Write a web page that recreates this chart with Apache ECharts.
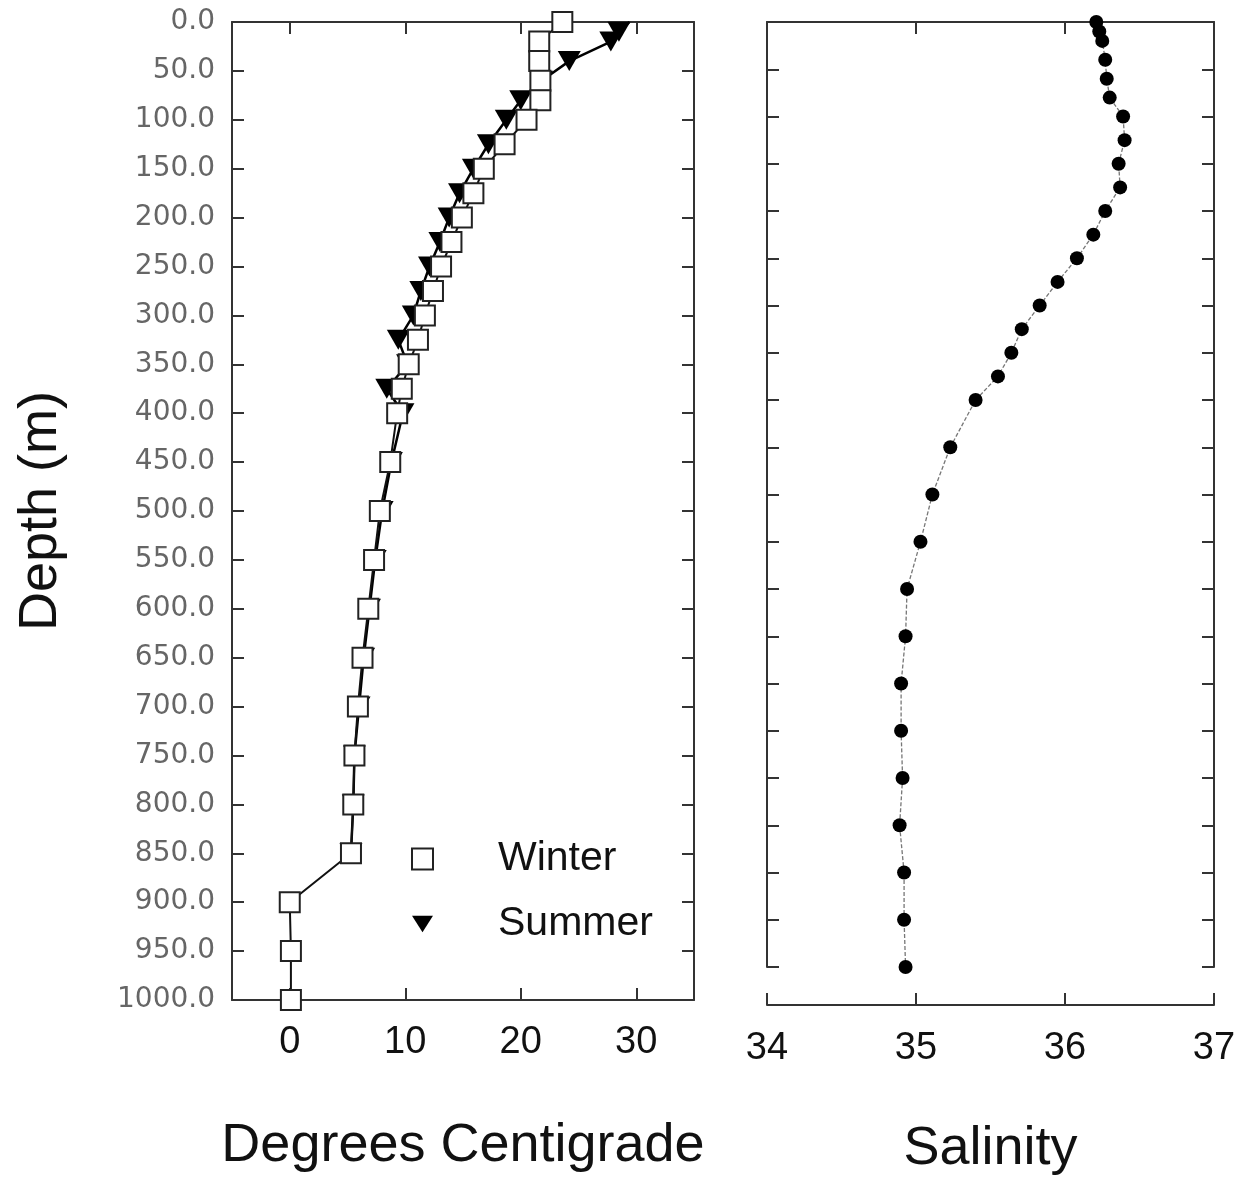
<!DOCTYPE html>
<html>
<head>
<meta charset="utf-8">
<script src="https://cdn.jsdelivr.net/npm/echarts@6/dist/echarts.min.js"></script>
<style>html,body{margin:0;padding:0;background:#fff}#chart{width:1245px;height:1178px}</style>
</head>
<body>
<div id="chart"></div>
<script>
// ---- data ----
const depthTicks = [0, 50, 100, 150, 200, 250, 300, 350, 400, 450, 500, 550, 600, 650, 700, 750, 800, 850, 900, 950, 1000];
const tempTicks = [0, 10, 20, 30];
const salTicks = [34, 35, 36, 37];

const winterDepth = [0, 20, 40, 60, 80, 100, 125, 150, 175, 200, 225, 250, 275, 300, 325, 350, 375, 400, 450, 500, 550, 600, 650, 700, 750, 800, 850, 900, 950, 1000];
const winterTemp  = [23.6, 21.6, 21.6, 21.7, 21.7, 20.5, 18.6, 16.8, 15.9, 14.9, 14.0, 13.1, 12.4, 11.7, 11.1, 10.3, 9.7, 9.3, 8.7, 7.8, 7.3, 6.8, 6.3, 5.9, 5.6, 5.5, 5.3, 0.0, 0.1, 0.1];

const summerDepth = [0, 10, 20, 40, 60, 80, 100, 125, 150, 175, 200, 225, 250, 275, 300, 325, 350, 375, 400, 450, 500, 550, 600, 650, 700, 750, 800, 850];
const summerTemp  = [29.4, 28.5, 27.8, 24.2, 21.8, 20.0, 18.75, 17.2, 15.9, 14.7, 13.8, 13.0, 12.1, 11.35, 10.7, 9.4, 10.2, 8.4, 9.8, 8.8, 8.0, 7.4, 6.9, 6.4, 6.0, 5.6, 5.5, 5.3];

const salDepth = [0, 10, 20, 40, 60, 80, 100, 125, 150, 175, 200, 225, 250, 275, 300, 325, 350, 375, 400, 450, 500, 550, 600, 650, 700, 750, 800, 850, 900, 950, 1000];
const salinity = [36.21, 36.23, 36.25, 36.27, 36.28, 36.30, 36.39, 36.40, 36.36, 36.37, 36.27, 36.19, 36.08, 35.95, 35.83, 35.71, 35.64, 35.55, 35.40, 35.23, 35.11, 35.03, 34.94, 34.93, 34.90, 34.90, 34.91, 34.89, 34.92, 34.92, 34.93];

// ---- build chart ----
const axisColor = '#333';
const FONT = 'Liberation Sans, Arial, sans-serif';
const lineSt = { color: axisColor, width: 2 };
const tickSt = { show: true, inside: true, length: 12, lineStyle: { color: axisColor, width: 2 } };

const winterData = winterDepth.map((d, i) => [winterTemp[i], d]);
const summerData = summerDepth.map((d, i) => (d === 0 ? { value: [summerTemp[i], d], symbol: 'none' } : [summerTemp[i], d]));
const salData = salDepth.map((d, i) => [salinity[i], d]);

const chart = echarts.init(document.getElementById('chart'), null, { renderer: 'canvas' });
chart.setOption({
  backgroundColor: '#fff',
  animation: false,
  textStyle: { fontFamily: FONT },
  grid: [
    { left: 232, top: 22, width: 462, height: 978, containLabel: false, outerBoundsMode: 'none' },
    { left: 767, top: 22, width: 447, height: 945, containLabel: false, outerBoundsMode: 'none' }
  ],
  legend: {
    orient: 'vertical',
    left: 406,
    top: 830,
    itemWidth: 21,
    itemHeight: 21,
    itemGap: 17,
    selectedMode: false,
    textStyle: { fontSize: 41, color: '#111', fontFamily: FONT, lineHeight: 48, padding: [0, 0, 0, 60] },
    data: [
      { name: 'Winter', icon: 'rect', itemStyle: { color: '#fff', borderColor: '#222', borderWidth: 2 } },
      { name: 'Summer', icon: 'path://M0,0L24,0L12,19Z', itemStyle: { color: '#000', borderWidth: 0 } }
    ]
  },
  xAxis: [
    {
      gridIndex: 0, type: 'value', position: 'bottom', min: -5, max: 35,
      axisLine: { show: true, onZero: false, lineStyle: lineSt },
      axisTick: Object.assign({}, tickSt, { customValues: tempTicks }),
      axisLabel: { customValues: tempTicks, fontSize: 38, margin: 24, color: '#111', fontFamily: FONT },
      splitLine: { show: false },
      name: 'Degrees Centigrade', nameLocation: 'middle', nameGap: 119,
      nameTextStyle: { fontSize: 54, color: '#111', fontFamily: FONT }
    },
    {
      gridIndex: 0, type: 'value', position: 'top', min: -5, max: 35,
      axisLine: { show: true, onZero: false, lineStyle: lineSt },
      axisTick: Object.assign({}, tickSt, { customValues: tempTicks }),
      axisLabel: { show: false },
      splitLine: { show: false }
    },
    {
      gridIndex: 1, type: 'value', position: 'bottom', offset: 38, min: 34, max: 37, interval: 1,
      axisLine: { show: true, onZero: false, lineStyle: lineSt },
      axisTick: tickSt,
      axisLabel: { fontSize: 38, margin: 25, color: '#111', fontFamily: FONT, showMinLabel: true, showMaxLabel: true },
      splitLine: { show: false },
      name: 'Salinity', nameLocation: 'middle', nameGap: 117,
      nameTextStyle: { fontSize: 54, color: '#111', fontFamily: FONT }
    },
    {
      gridIndex: 1, type: 'value', position: 'top', min: 34, max: 37, interval: 1,
      axisLine: { show: true, onZero: false, lineStyle: lineSt },
      axisTick: tickSt,
      axisLabel: { show: false },
      splitLine: { show: false }
    }
  ],
  yAxis: [
    {
      gridIndex: 0, type: 'value', position: 'left', inverse: true, min: 0, max: 1000, interval: 50,
      axisLine: { show: true, onZero: false, lineStyle: lineSt },
      axisTick: tickSt,
      axisLabel: {
        formatter: v => v.toFixed(1), fontSize: 28, margin: 17, color: '#666',
        fontFamily: 'DejaVu Sans, sans-serif', showMinLabel: true, showMaxLabel: true
      },
      splitLine: { show: false },
      name: 'Depth (m)', nameLocation: 'middle', nameRotate: 90, nameGap: 164,
      nameTextStyle: { fontSize: 54, color: '#111', fontFamily: FONT }
    },
    {
      gridIndex: 0, type: 'value', position: 'right', inverse: true, min: 0, max: 1000, interval: 50,
      axisLine: { show: true, onZero: false, lineStyle: lineSt },
      axisTick: tickSt,
      axisLabel: { show: false },
      splitLine: { show: false }
    },
    {
      gridIndex: 1, type: 'value', position: 'left', inverse: true, min: 0, max: 1000, interval: 50,
      axisLine: { show: true, onZero: false, lineStyle: lineSt },
      axisTick: tickSt,
      axisLabel: { show: false },
      splitLine: { show: false }
    },
    {
      gridIndex: 1, type: 'value', position: 'right', inverse: true, min: 0, max: 1000, interval: 50,
      axisLine: { show: true, onZero: false, lineStyle: lineSt },
      axisTick: tickSt,
      axisLabel: { show: false },
      splitLine: { show: false }
    }
  ],
  series: [
    {
      name: 'Summer', type: 'line', xAxisIndex: 0, yAxisIndex: 0, z: 2,
      data: summerData,
      symbol: 'triangle', symbolRotate: 180, symbolSize: [23, 20], showAllSymbol: true,
      itemStyle: { color: '#000' },
      lineStyle: { color: '#000', width: 2.5 },
      clip: false
    },
    {
      name: 'Winter', type: 'line', xAxisIndex: 0, yAxisIndex: 0, z: 3,
      data: winterData,
      symbol: 'rect', symbolSize: 20, showAllSymbol: true,
      itemStyle: { color: '#fff', borderColor: '#222', borderWidth: 2 },
      lineStyle: { color: '#111', width: 2 },
      clip: false
    },
    {
      name: 'Salinity', type: 'line', xAxisIndex: 2, yAxisIndex: 2, z: 2,
      data: salData,
      symbol: 'circle', symbolSize: 14, showAllSymbol: true,
      itemStyle: { color: '#000' },
      lineStyle: { color: '#777', width: 1.3, type: [4, 2] },
      clip: false
    }
  ]
});
</script>
</body>
</html>
